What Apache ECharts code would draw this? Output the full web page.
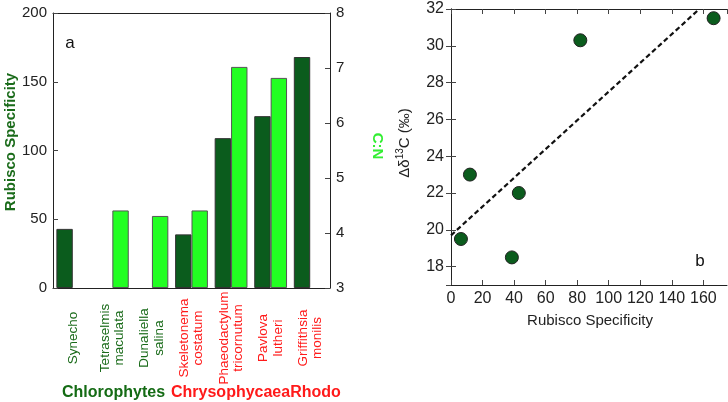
<!DOCTYPE html>
<html>
<head>
<meta charset="utf-8">
<script src="https://cdn.jsdelivr.net/npm/echarts@6/dist/echarts.min.js"></script>
<style>
html,body{margin:0;padding:0;background:#fff;}
#c{width:728px;height:402px;}
</style>
</head>
<body>
<div id="c"></div>
<script>
// ---- Data ----
var categories = ['Synecho', 'Tetraselmis\nmaculata', 'Dunaliella\nsalina', 'Skeletonema\ncostatum', 'Phaeodactylum\ntricornutum', 'Pavlova\nlutheri', 'Griffithsia\nmonilis'];
var categoryGroup = ['Chlorophytes', 'Chlorophytes', 'Chlorophytes', 'Chrysophycaea', 'Chrysophycaea', 'Chrysophycaea', 'Rhodo'];
var rubiscoSpecificity = [43, null, null, 39, 109, 125, 168];
var cnRatio = [null, 4.41, 4.31, 4.41, 7.02, 6.82, null];
var rubiscoTicks = [0, 50, 100, 150, 200];
var cnTicks = [3, 4, 5, 6, 7, 8];
var scatterPoints = [[6.3, 19.5], [12, 23.0], [38.6, 18.5], [43, 22.0], [82, 30.3], [166.5, 31.5]];
var fitLine = [[0, 19.7], [157.5, 32]];

var DARK = '#0b5c1d';
var LIGHT = '#22ff22';
var GREEN_TXT = '#1a6b1a';
var RED_TXT = '#ff1a1a';
var FONT = 'Liberation Sans';

var chart = echarts.init(document.getElementById('c'), null, {renderer: 'canvas'});

var axisLineStyle = {color: '#222', width: 1};
var tickStyle = {color: '#444', width: 1};

var option = {
  animation: false,
  backgroundColor: '#fff',
  textStyle: {fontFamily: FONT},
  grid: [
    {left: 53, right: 398, top: 13, bottom: 114, outerBoundsMode: 'none', containLabel: false},
    {left: 451, right: 1, top: 9, bottom: 117, outerBoundsMode: 'none', containLabel: false}
  ],
  xAxis: [
    {
      type: 'category', gridIndex: 0, position: 'bottom', data: categories,
      axisLine: {lineStyle: axisLineStyle},
      axisTick: {inside: true, length: 5, lineStyle: {color: '#777'}},
      axisLabel: {
        interval: 0, rotate: 90, align: 'center', verticalAlign: 'middle', margin: 50,
        fontFamily: FONT, fontSize: 13.5, lineHeight: 14.5,
        color: function (v, i) { return categoryGroup[i] === 'Chlorophytes' ? GREEN_TXT : RED_TXT; }
      }
    },
    {
      type: 'category', gridIndex: 0, position: 'top', data: categories,
      axisLine: {lineStyle: axisLineStyle},
      axisTick: {inside: true, length: 5, lineStyle: tickStyle},
      axisLabel: {show: false}
    },
    {
      type: 'value', gridIndex: 1, position: 'bottom', min: 0, max: 175, interval: 20,
      axisLine: {lineStyle: axisLineStyle},
      axisTick: {inside: true, length: 5, lineStyle: tickStyle},
      axisLabel: {showMaxLabel: false, margin: 6, fontFamily: FONT, fontSize: 16, color: '#222'},
      splitLine: {show: false}
    },
    {
      type: 'value', gridIndex: 1, position: 'top', min: 0, max: 175, interval: 20,
      axisLine: {lineStyle: axisLineStyle},
      axisTick: {inside: true, length: 5, lineStyle: tickStyle},
      axisLabel: {show: false},
      splitLine: {show: false}
    }
  ],
  yAxis: [
    {
      type: 'value', gridIndex: 0, position: 'left', min: rubiscoTicks[0], max: rubiscoTicks[rubiscoTicks.length - 1], interval: 50,
      axisLine: {show: true, lineStyle: axisLineStyle},
      axisTick: {show: true, inside: true, length: 5, lineStyle: tickStyle},
      axisLabel: {margin: 6, fontFamily: FONT, fontSize: 15, color: '#222'},
      splitLine: {show: false}
    },
    {
      type: 'value', gridIndex: 0, position: 'right', min: cnTicks[0], max: cnTicks[cnTicks.length - 1], interval: 1,
      startValue: 3,
      axisLine: {show: true, lineStyle: axisLineStyle},
      axisTick: {show: true, inside: true, length: 5, lineStyle: tickStyle},
      axisLabel: {margin: 6, fontFamily: FONT, fontSize: 15, color: '#222'},
      splitLine: {show: false}
    },
    {
      type: 'value', gridIndex: 1, position: 'left', min: 17, max: 32, splitNumber: 7,
      axisLine: {show: true, lineStyle: axisLineStyle},
      axisTick: {show: true, inside: true, length: 5, lineStyle: tickStyle},
      axisLabel: {showMinLabel: false, margin: 7, fontFamily: FONT, fontSize: 16, color: '#222'},
      splitLine: {show: false}
    },
    {
      type: 'value', gridIndex: 1, position: 'right', min: 17, max: 32, splitNumber: 7,
      axisLine: {show: true, lineStyle: axisLineStyle},
      axisTick: {show: true, inside: true, length: 5, lineStyle: tickStyle},
      axisLabel: {show: false},
      splitLine: {show: false}
    }
  ],
  series: [
    {
      name: 'Rubisco Specificity', type: 'bar', xAxisIndex: 0, yAxisIndex: 0,
      data: rubiscoSpecificity, barWidth: 16.4, barGap: '0%', clip: true,
      itemStyle: {color: DARK, borderColor: '#333', borderWidth: 1}
    },
    {
      name: 'C:N', type: 'bar', xAxisIndex: 0, yAxisIndex: 1,
      data: cnRatio, barWidth: 16.4, barGap: '0%', clip: true,
      itemStyle: {color: LIGHT, borderColor: '#555', borderWidth: 1}
    },
    {
      name: 'fit', type: 'line', xAxisIndex: 2, yAxisIndex: 2,
      data: fitLine, symbol: 'none', clip: true, z: 2,
      lineStyle: {color: '#111', width: 2.2, type: [5, 3]}
    },
    {
      name: 'points', type: 'scatter', xAxisIndex: 2, yAxisIndex: 2,
      data: scatterPoints, symbol: 'circle', symbolSize: 13, z: 3,
      itemStyle: {color: DARK, borderColor: '#222', borderWidth: 1, opacity: 1}
    }
  ],
  graphic: [
    {type: 'text', x: 11, y: 142, rotation: Math.PI / 2,
      style: {text: 'Rubisco Specificity', font: 'bold 15px "Liberation Sans"', fill: GREEN_TXT, align: 'center', verticalAlign: 'middle'}},
    {type: 'text', x: 377, y: 146, rotation: -Math.PI / 2,
      style: {text: 'C:N', font: 'bold 15px "Liberation Sans"', fill: '#33ee33', align: 'center', verticalAlign: 'middle'}},
    {type: 'text', x: 70, y: 43,
      style: {text: 'a', font: '17px "Liberation Sans"', fill: '#111', align: 'center', verticalAlign: 'middle'}},
    {type: 'text', x: 700, y: 261,
      style: {text: 'b', font: '17px "Liberation Sans"', fill: '#111', align: 'center', verticalAlign: 'middle'}},
    {type: 'text', x: 62, y: 393,
      style: {text: 'Chlorophytes', font: 'bold 16px "Liberation Sans"', fill: '#146b14', align: 'left', verticalAlign: 'middle'}},
    {type: 'text', x: 171, y: 393,
      style: {text: 'ChrysophycaeaRhodo', font: 'bold 16px "Liberation Sans"', fill: RED_TXT, align: 'left', verticalAlign: 'middle'}},
    {type: 'text', x: 590, y: 321,
      style: {text: 'Rubisco Specificity', font: '15px "Liberation Sans"', fill: '#222', align: 'center', verticalAlign: 'middle'}},
    {type: 'text', x: 405, y: 143, rotation: Math.PI / 2,
      style: {
        text: '{a|Δδ}{s|13}{a|C (‰)}', align: 'center', verticalAlign: 'middle',
        rich: {
          a: {fontFamily: FONT, fontSize: 15, fill: '#222', color: '#222', lineHeight: 20},
          s: {fontFamily: FONT, fontSize: 10, fill: '#222', color: '#222', verticalAlign: 'top', lineHeight: 12}
        }
      }}
  ]
};
chart.setOption(option);
</script>
</body>
</html>
